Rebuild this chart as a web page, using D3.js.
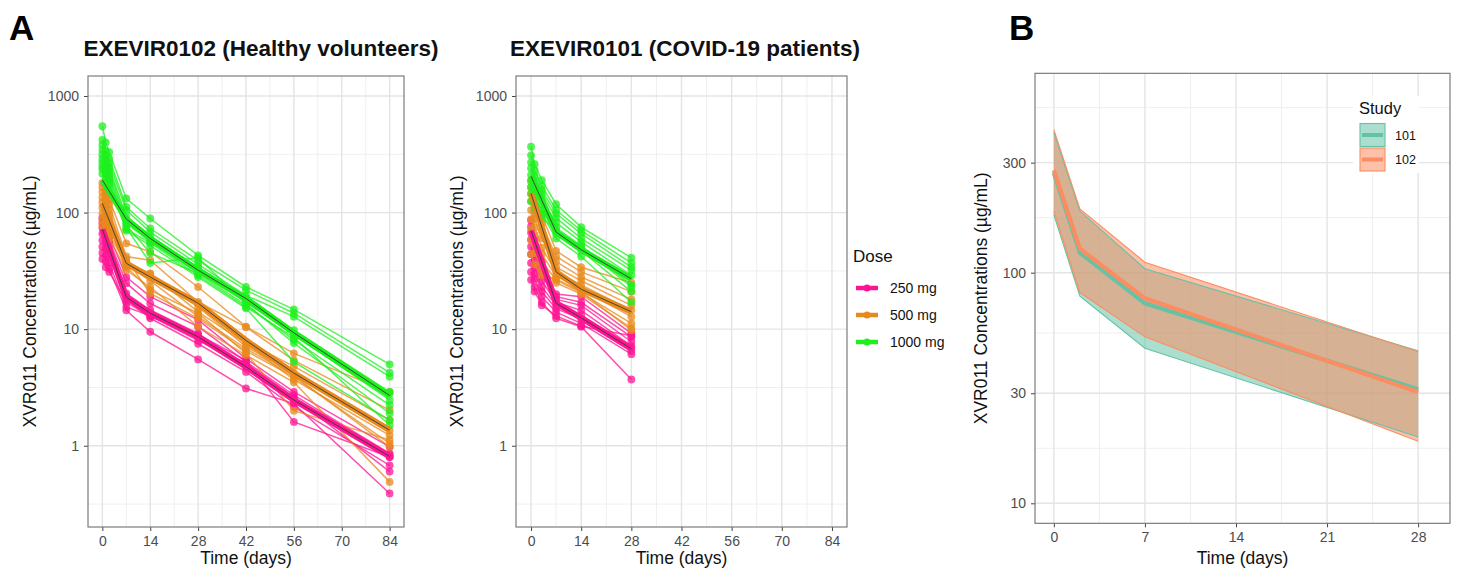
<html>
<head>
<style>
body{ margin:0; background:#fff; }
svg text{ font-family: "Liberation Sans", Arial, Helvetica, sans-serif; }
.grid-major{ stroke:#e4e4e4; stroke-width:1.4; }
.grid-minor{ stroke:#efefef; stroke-width:1; }
.panel-border{ fill:none; stroke:#707070; stroke-width:1.1; }
.axis .domain{ display:none; }
.axis line{ stroke:#444; }
.axis text{ fill:#4d4d4d; font-size:14px; font-family:"Liberation Sans", Arial, sans-serif; }
.axis-title{ fill:#111; font-size:17.5px; }
.plot-title{ fill:#111; font-size:22.5px; font-weight:bold; }
.panel-tag{ fill:#000; font-size:35px; font-weight:bold; }
</style>
</head>
<body>
<svg id="fig"></svg>
<script src="https://cdn.jsdelivr.net/npm/d3@7"></script>
<script>
// ---- panel A data (µg/mL), one row per subject ----
var hvTimes = [0, 1, 2, 7, 14, 28, 42, 56, 84];
var hvMeanTimes = [0, 7, 14, 28, 42, 56, 84];
var hv250 = [
    [90, 74, 64, 28, 19, 12, 5.6, 2.9, 0.98],
    [82, 68, 58, 24.8, 16.6, 10.5, 5.25, 2.72, 0.86],
    [74, 61, 52, 20.3, 14.6, 9.2, 4.76, 2.55, 0.83],
    [66, 55, 47, 19, 13.7, 8.6, 4.8, 2.38, 0.80],
    [58, 49, 42, 18, 12.4, 7.5, 4.3, 2.16, 0.68],
    [51, 43, 37, 15.5, 13, 8.0, 5.1, 2.6, 0.60],
    [45, 38, 33, 14.5, 9.5, 5.5, 3.1, 2.3, 0.39],
    [40, 34, 31, 17, 12.8, 9.0, 5.4, 1.6, 0.80]
];
var hv500 = [
    [180, 150, 130, 54.5, 46, 23, 10.5, 6.2, 2.9],
    [165, 138, 118, 42, 39, 17.1, 10.4, 5.4, 2.02],
    [150, 125, 105, 38, 30, 16.6, 7.8, 4.8, 1.66],
    [135, 112, 95, 36.6, 28, 15.5, 7.1, 4.2, 1.36],
    [122, 100, 86, 35, 30, 14.1, 7.5, 3.7, 1.23],
    [110, 92, 78, 34.3, 21.6, 13.7, 6.2, 2.0, 1.12],
    [98, 83, 72, 40, 20.3, 12.4, 6.5, 3.9, 1.05],
    [88, 75, 65, 36, 26, 12.8, 6.8, 4.0, 0.98],
    [78, 68, 60, 32, 23, 10.5, 6.0, 3.5, 0.49]
];
var hv1000 = [
    [550, 400, 330, 132, 89, 43, 23, 14.8, 4.99],
    [420, 340, 290, 112, 73, 39, 21.6, 13.7, 4.23],
    [380, 310, 265, 105, 68, 36, 19.5, 12.8, 3.91],
    [345, 285, 245, 92, 62, 34, 18.5, 9.8, 2.90],
    [315, 265, 230, 86, 58, 32, 17.7, 9.2, 2.81],
    [290, 245, 215, 81, 56, 31, 17.0, 9.0, 2.47],
    [270, 230, 200, 78, 45, 30, 16.1, 8.1, 2.23],
    [250, 215, 190, 74, 37, 41, 16.5, 7.6, 1.90],
    [235, 205, 180, 70, 52, 28, 15.1, 5.25, 1.66],
    [215, 190, 172, 72, 55, 29, 15.5, 8.5, 1.50]
];
var hv250Mean = [72, 18.8, 13.7, 8.6, 4.76, 2.47, 0.81];
var hv500Mean = [120, 36.7, 28, 16.7, 8.0, 4.2, 1.36];
var hv1000Mean = [190, 88, 60, 32, 18.3, 9.3, 2.7];

var covTimes = [0, 1, 3, 7, 14, 28];
var covMeanTimes = [0, 7, 14, 28];
var cov250 = [
    [86, 58, 38, 20, 19, 9.2],
    [76, 50, 33, 19, 17, 8.6],
    [67, 44, 29, 18, 16, 7.8],
    [59, 39, 26, 17, 14.5, 7.2],
    [51, 34, 23, 16, 13.2, 6.9],
    [44, 30, 21, 15, 12.2, 6.5],
    [37, 27, 19, 14, 11.2, 6.1],
    [31, 23, 17, 12.4, 10.5, 3.7],
    [26.5, 21, 16, 13, 10.6, 8.8]
];
var cov500 = [
    [190, 135, 95, 47, 34, 25],
    [165, 115, 80, 42, 31, 21],
    [145, 100, 70, 38, 28, 18],
    [125, 88, 60, 34, 26, 16],
    [105, 75, 50, 31, 24, 14.5],
    [88, 64, 44, 28.5, 22, 12.8],
    [72, 54, 38, 26.5, 20.5, 11.2],
    [58, 45, 33, 25, 20, 10.2],
    [44, 36, 29, 27, 21, 9.8]
];
var cov1000 = [
    [367, 260, 190, 118, 75, 41],
    [310, 230, 170, 105, 70, 37],
    [270, 205, 155, 98, 66, 34],
    [240, 185, 145, 90, 60, 32],
    [210, 165, 130, 82, 56, 29],
    [185, 150, 118, 74, 52, 24],
    [165, 135, 105, 66, 47, 21],
    [145, 122, 98, 60, 42, 17],
    [125, 110, 90, 71, 51, 23]
];
var cov250Mean = [70, 16.7, 12.5, 6.8];
var cov500Mean = [146, 31, 22, 14.1];
var cov1000Mean = [205, 68, 48, 27];

var doseLabels = ["250 mg", "500 mg", "1000 mg"];
var doseColors = ["#ff1493", "#e8891c", "#1ef01e"];
var aTicksX = [0, 14, 28, 42, 56, 70, 84];
var aTicksY = [1, 10, 100, 1000];

// ---- panel B data: median and 5-95% band ----
var bTimes = [0, 2, 7, 28];
var b101Median = [270, 122, 73.6, 31.2];
var b101Low = [178, 79, 47, 19.4];
var b101High = [405, 185, 104, 45.9];
var b102Median = [278, 127, 77.4, 30.4];
var b102Low = [185, 82, 52.7, 18.6];
var b102High = [417, 189, 111, 45.4];
var studyLabels = ["101", "102"];
var studyColors = ["#66c2a5", "#fc8d62"];
var bTicksX = [0, 7, 14, 21, 28];
var bTicksY = [10, 30, 100, 300];

var W = 1458, H = 571;
var svg = d3.select("#fig").attr("width", W).attr("height", H);
svg.append("rect").attr("width", W).attr("height", H).attr("fill", "#fff");

// minor breaks halfway (in log space) between majors, one step beyond each end
function logMinors(majors){
    var l = majors.map(Math.log10), step = l[1] - l[0];
    var ext = [l[0] - step].concat(l, [l[l.length - 1] + step]);
    var out = [];
    for (var i = 0; i < ext.length - 1; i++) out.push(Math.pow(10, (ext[i] + ext[i + 1]) / 2));
    return out;
}
function linMinors(majors){
    var step = majors[1] - majors[0];
    var ext = [majors[0] - step].concat(majors, [majors[majors.length - 1] + step]);
    var out = [];
    for (var i = 0; i < ext.length - 1; i++) out.push((ext[i] + ext[i + 1]) / 2);
    return out;
}

function frame(x, y, tx, ty){
    var g = svg.append("g");
    var x0 = x.range()[0], x1 = x.range()[1], y0 = y.range()[1], y1 = y.range()[0];
    var xm = linMinors(tx).filter(function(d){ return d > x.domain()[0] && d < x.domain()[1]; });
    var ym = logMinors(ty).filter(function(d){ return d > y.domain()[0] && d < y.domain()[1]; });
    g.selectAll(".ymn").data(ym).enter().append("line").attr("class", "grid-minor")
        .attr("x1", x0).attr("x2", x1).attr("y1", y).attr("y2", y);
    g.selectAll(".xmn").data(xm).enter().append("line").attr("class", "grid-minor")
        .attr("y1", y0).attr("y2", y1).attr("x1", x).attr("x2", x);
    g.selectAll(".ymj").data(ty).enter().append("line").attr("class", "grid-major")
        .attr("x1", x0).attr("x2", x1).attr("y1", y).attr("y2", y);
    g.selectAll(".xmj").data(tx).enter().append("line").attr("class", "grid-major")
        .attr("y1", y0).attr("y2", y1).attr("x1", x).attr("x2", x);

    svg.append("g").attr("class", "axis")
        .attr("transform", "translate(0," + y1 + ")")
        .call(d3.axisBottom(x).tickValues(tx).tickSize(4).tickPadding(5).tickFormat(d3.format("d")));
    svg.append("g").attr("class", "axis")
        .attr("transform", "translate(" + x0 + ",0)")
        .call(d3.axisLeft(y).tickValues(ty).tickSize(4).tickPadding(5).tickFormat(d3.format("d")));
    return g;
}
function border(x, y){
    svg.append("rect").attr("class", "panel-border")
        .attr("x", x.range()[0]).attr("y", y.range()[1])
        .attr("width", x.range()[1] - x.range()[0])
        .attr("height", y.range()[0] - y.range()[1]);
}
function axisTitles(x, y, ylabX){
    var cx = (x.range()[0] + x.range()[1]) / 2, cy = (y.range()[0] + y.range()[1]) / 2;
    svg.append("text").attr("class", "axis-title").attr("text-anchor", "middle")
        .attr("x", cx).attr("y", 564).text("Time (days)");
    svg.append("text").attr("class", "axis-title").attr("text-anchor", "middle")
        .attr("transform", "translate(" + ylabX + "," + cy + ") rotate(-90)")
        .text("XVR011 Concentrations (\u00b5g/mL)");
}

function panelA(x0, x1, title, titleX, ylabX, times, groups, meanTimes, means){
    var x = d3.scaleLinear().domain([-4.2, 88.2]).range([x0, x1]);
    var y = d3.scaleLog().domain([0.201, 1484]).range([527, 76]);
    frame(x, y, aTicksX, aTicksY);
    var line = d3.line().x(function(d){ return x(d[0]); }).y(function(d){ return y(d[1]); });
    var g = svg.append("g");
    groups.forEach(function(subjects, k){
        subjects.forEach(function(s){
            var pts = s.map(function(v, i){ return [times[i], v]; });
            g.append("path").datum(pts).attr("d", line)
                .attr("fill", "none").attr("stroke", doseColors[k])
                .attr("stroke-width", 1.5).attr("stroke-opacity", 0.75);
            g.selectAll(null).data(pts).enter().append("circle")
                .attr("cx", function(d){ return x(d[0]); })
                .attr("cy", function(d){ return y(d[1]); })
                .attr("r", 3.9).attr("fill", doseColors[k]).attr("fill-opacity", 0.75);
        });
    });
    means.forEach(function(m, k){
        var pts = m.map(function(v, i){ return [meanTimes[i], v]; });
        g.append("path").datum(pts).attr("d", line)
            .attr("fill", "none").attr("stroke", doseColors[k]).attr("stroke-width", 6);
        g.append("path").datum(pts).attr("d", line)
            .attr("fill", "none").attr("stroke", "#3a3a3a").attr("stroke-width", 0.9);
    });
    border(x, y);
    axisTitles(x, y, ylabX);
    svg.append("text").attr("class", "plot-title").attr("text-anchor", "middle")
        .attr("x", titleX).attr("y", 56).text(title);
}

svg.append("text").attr("class", "panel-tag").attr("x", 9).attr("y", 40).text("A");
svg.append("text").attr("class", "panel-tag").attr("x", 1009).attr("y", 40).text("B");

panelA(88, 404, "EXEVIR0102 (Healthy volunteers)", 261, 36, hvTimes,
    [hv250, hv500, hv1000], hvMeanTimes, [hv250Mean, hv500Mean, hv1000Mean]);
panelA(516, 847, "EXEVIR0101 (COVID-19 patients)", 685, 463, covTimes,
    [cov250, cov500, cov1000], covMeanTimes, [cov250Mean, cov500Mean, cov1000Mean]);

// dose legend
var leg = svg.append("g");
leg.append("text").attr("x", 853).attr("y", 262).attr("font-size", "17px").attr("fill", "#111").text("Dose");
doseLabels.forEach(function(lab, i){
    var cy = 288 + i * 27;
    leg.append("line").attr("x1", 856).attr("x2", 878).attr("y1", cy).attr("y2", cy)
        .attr("stroke", doseColors[i]).attr("stroke-width", 4.5);
    leg.append("circle").attr("cx", 867).attr("cy", cy).attr("r", 3.5).attr("fill", doseColors[i]);
    leg.append("text").attr("x", 890).attr("y", cy + 5).attr("font-size", "14px").attr("fill", "#111").text(lab);
});

// ---- panel B ----
var bx = d3.scaleLinear().domain([-1.45, 30.45]).range([1035, 1450]);
var by = d3.scaleLog().domain([8.19, 732]).range([523.3, 73.3]);
frame(bx, by, bTicksX, bTicksY);
var bands = [
    {med: b101Median, lo: b101Low, hi: b101High},
    {med: b102Median, lo: b102Low, hi: b102High}
];
var area = d3.area()
    .x(function(d){ return bx(d.t); })
    .y0(function(d){ return by(d.lo); })
    .y1(function(d){ return by(d.hi); });
var bLine = d3.line().x(function(d){ return bx(d[0]); }).y(function(d){ return by(d[1]); });
var gb = svg.append("g");
bands.forEach(function(b, k){
    var rows = bTimes.map(function(t, i){ return {t: t, lo: b.lo[i], hi: b.hi[i]}; });
    gb.append("path").datum(rows).attr("d", area)
        .attr("fill", studyColors[k]).attr("fill-opacity", 0.55);
});
bands.forEach(function(b, k){
    [b.lo, b.hi].forEach(function(arr){
        gb.append("path").datum(bTimes.map(function(t, i){ return [t, arr[i]]; }))
            .attr("d", bLine).attr("fill", "none").attr("stroke", studyColors[k]).attr("stroke-width", 1.1);
    });
});
bands.forEach(function(b, k){
    gb.append("path").datum(bTimes.map(function(t, i){ return [t, b.med[i]]; }))
        .attr("d", bLine).attr("fill", "none").attr("stroke", studyColors[k]).attr("stroke-width", 4.2);
});
border(bx, by);
axisTitles(bx, by, 987);

// study legend
var lb = svg.append("g");
lb.append("rect").attr("x", 1353).attr("y", 96).attr("width", 66).attr("height", 77).attr("fill", "#fff");
lb.append("text").attr("x", 1359).attr("y", 114).attr("font-size", "16.5px").attr("fill", "#111").text("Study");
studyLabels.forEach(function(lab, i){
    var top = 123.5 + i * 24.5;
    lb.append("rect").attr("x", 1360).attr("y", top).attr("width", 25).attr("height", 23)
        .attr("fill", studyColors[i]).attr("fill-opacity", 0.55)
        .attr("stroke", studyColors[i]).attr("stroke-width", 1.1);
    lb.append("line").attr("x1", 1362).attr("x2", 1383).attr("y1", top + 11.5).attr("y2", top + 11.5)
        .attr("stroke", studyColors[i]).attr("stroke-width", 4);
    lb.append("text").attr("x", 1395).attr("y", top + 16).attr("font-size", "12.5px").attr("fill", "#111").text(lab);
});
</script>
</body>
</html>
